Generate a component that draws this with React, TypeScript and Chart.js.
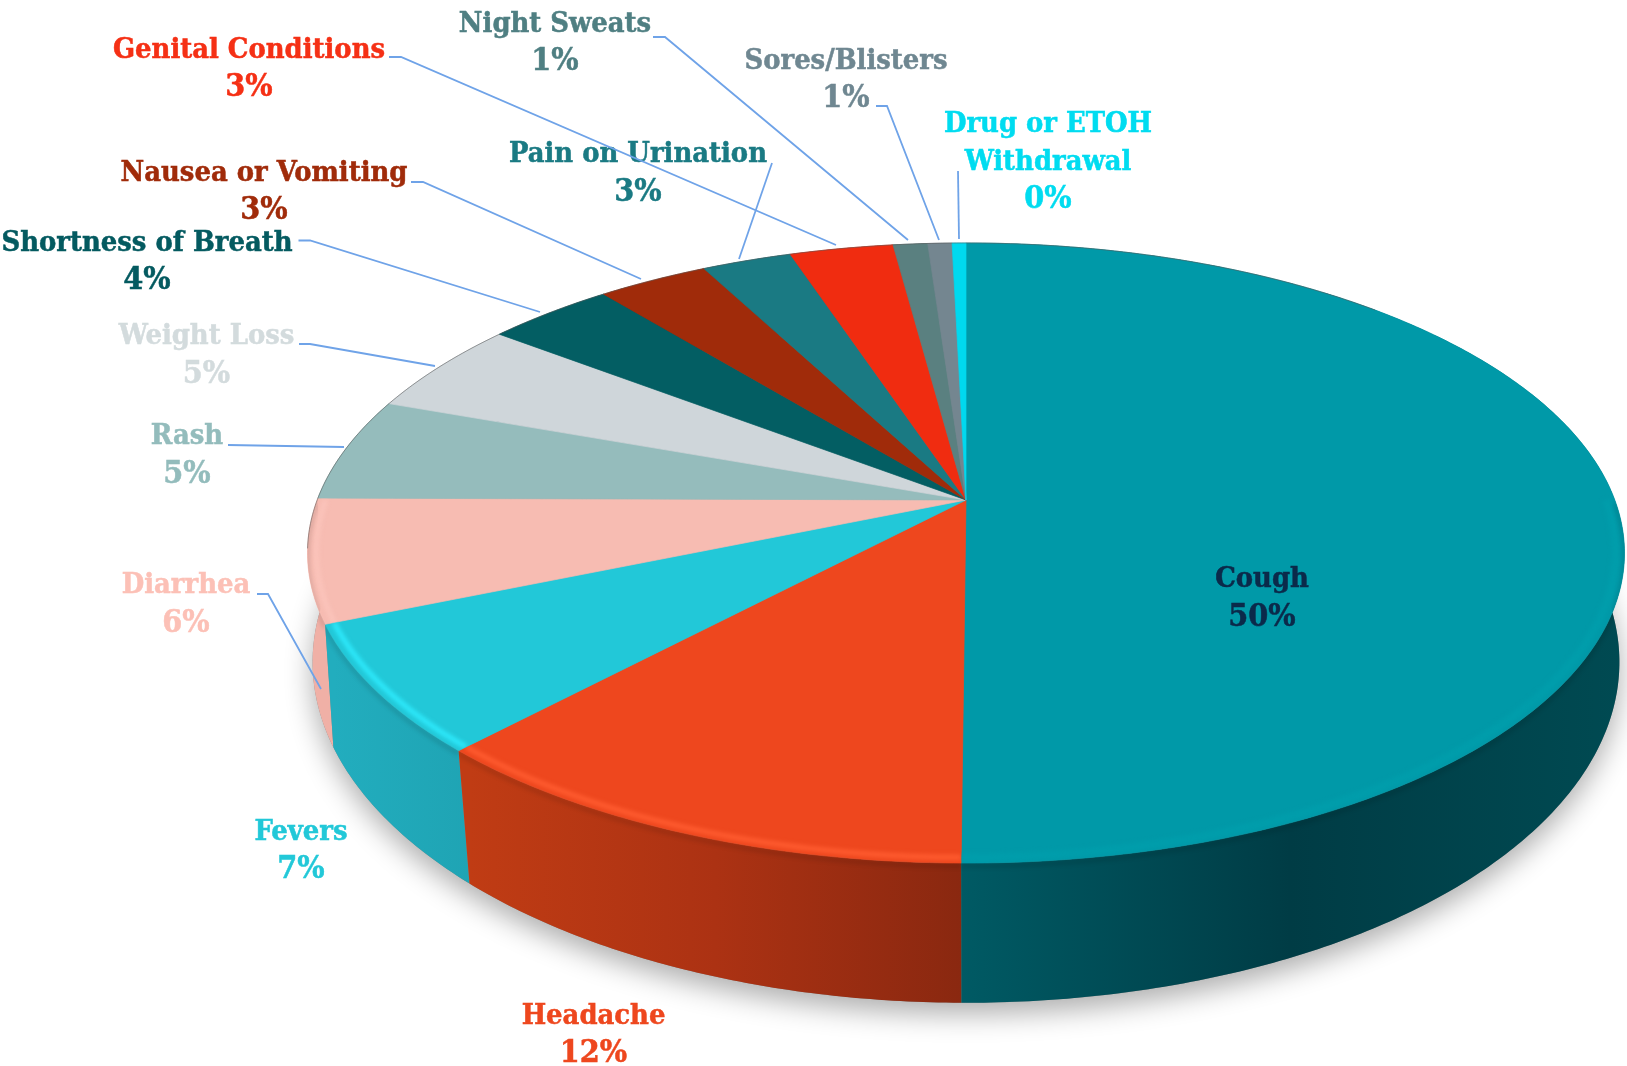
import React, { useEffect, useRef } from "react";
import { Chart, registerables } from "chart.js";

Chart.register(...registerables);

const categories = ["Cough", "Headache", "Fevers", "Diarrhea", "Rash", "Weight Loss", "Shortness of Breath", "Nausea or Vomiting", "Pain on Urination", "Genital Conditions", "Night Sweats", "Sores/Blisters", "Drug or ETOH Withdrawal"];
const values = [50.1, 11.9, 6.7, 6.4, 5.4, 4.9, 3.7, 3.2, 2.6, 3.0, 1.0, 0.7, 0.4];
const topColors = ["#0099a8", "#ee471e", "#22c8d8", "#f7bcb2", "#95bcbc", "#cfd6da", "#035e63", "#a02b0a", "#1a7a83", "#f02c10", "#5a8080", "#748690", "#00d9ef"];
const textColors = ["#0b2a4a", "#ee471e", "#22c8d8", "#fcc0b6", "#93bcbc", "#d3dbdd", "#045a60", "#a02b0a", "#1a7a83", "#f53015", "#4f7f82", "#6f8791", "#00dcf0"];
const wallColors = [["#005a64", "#003c45", "#004a52"], ["#c03c14", "#ac3213", "#8a2810"], ["#22adbe", "#1fa4b4"], ["#f0b0a6", "#f0b0a6"], ["#7aa0a0", "#7aa0a0"], ["#aab4b6", "#aab4b6"], ["#034448", "#034448"], ["#7a2007", "#7a2007"], ["#125a60", "#125a60"], ["#b0200c", "#b0200c"], ["#406060", "#406060"], ["#566470", "#566470"], ["#00a0b0", "#00a0b0"]];
const rimColors = ["#009dab", "#ff5c30", "#2eeafc", "#fbc4bb", "#95bcbc", "#cfd6da", "#035e63", "#a02b0a", "#1a7a83", "#f02c10", "#5a8080", "#748690", "#00d9ef"];

// lines: centre x, y centres of each text line; leader: polyline from label to pie
const labelLayout = [
  { lines: ["Cough"], cx: 1262, ys: [577, 615] },
  { lines: ["Headache"], cx: 593.5, ys: [1014, 1051] },
  { lines: ["Fevers"], cx: 301, ys: [830, 867.5] },
  { lines: ["Diarrhea"], cx: 186, ys: [583, 621.5], leader: [[257, 594], [268, 594], [321, 689]] },
  { lines: ["Rash"], cx: 187, ys: [434, 472], leader: [[228, 445], [344, 447]] },
  { lines: ["Weight Loss"], cx: 206.5, ys: [334, 372.5], leader: [[299, 344], [310, 344], [435, 366]] },
  { lines: ["Shortness of Breath"], cx: 147, ys: [241, 278], leader: [[298.5, 240.5], [310, 240.5], [540, 312]] },
  { lines: ["Nausea or Vomiting"], cx: 264, ys: [171, 208.5], leader: [[411, 182], [423, 182], [641, 279]] },
  { lines: ["Pain on Urination"], cx: 638, ys: [152.5, 190], leader: [[772, 163], [739, 259]] },
  { lines: ["Genital Conditions"], cx: 249, ys: [48, 85], leader: [[389, 57], [401, 57], [836, 245]] },
  { lines: ["Night Sweats"], cx: 555, ys: [22, 59], leader: [[653, 37], [665, 37], [908, 240]] },
  { lines: ["Sores/Blisters"], cx: 846, ys: [59, 96.5], leader: [[876, 106], [887, 106], [939, 240]] },
  { lines: ["Drug or ETOH", "Withdrawal"], cx: 1048, ys: [122, 160, 197], leader: [[958, 171], [959, 239]] },
];

const TOP = { x0: 966, y0: 500, A: 648.8, B: 301, k: 0.171 };
const BOTTOM = { x0: 966, y0: 611, A: 646, B: 333, k: 0.15 };
const FAMILY = '"DejaVu Serif Condensed", "DejaVu Serif", serif';
const NAME_FONT = `bold 28.8px ${FAMILY}`;
const PCT_FONT = `bold 32px ${FAMILY}`;
const LEADER = "#6fa3e8";

type Proj = typeof TOP;
const project = (p: Proj, a: number, r = 1): [number, number] => {
  const X = r * Math.cos(a);
  const Y = r * Math.sin(a);
  const w = 1 / (1 - p.k * Y);
  return [p.x0 + p.A * X * w, p.y0 + p.B * Y * w];
};

const arcPoints = (p: Proj, s: number, e: number, r = 1) => {
  const n = Math.max(2, Math.ceil(Math.abs(e - s) / 0.01));
  const out: [number, number][] = [];
  for (let i = 0; i <= n; i++) out.push(project(p, s + ((e - s) * i) / n, r));
  return out;
};

const pie3d = {
  id: "pie3d",
  beforeDatasetsDraw(chart: any) {
    const ctx: CanvasRenderingContext2D = chart.ctx;
    const arcs = chart.getDatasetMeta(0).data;
    const order = arcs.map((_: any, i: number) => i);

    // Drop shadow under the base
    ctx.save();
    ctx.shadowColor = "rgba(0,0,0,0.32)";
    ctx.shadowBlur = 28;
    ctx.shadowOffsetY = 11;
    ctx.shadowOffsetX = 0;
    ctx.fillStyle = "#888";
    ctx.beginPath();
    arcPoints(BOTTOM, 0, Math.PI * 2).forEach(([x, y], i) => (i ? ctx.lineTo(x, y) : ctx.moveTo(x, y)));
    ctx.closePath();
    ctx.fill();
    ctx.restore();

    const mid = (i: number) => Math.sin((arcs[i].startAngle + arcs[i].endAngle) / 2);
    const wallPath = (i: number) => {
      const { startAngle: s, endAngle: e } = arcs[i];
      const t = arcPoints(TOP, s, e);
      const b = arcPoints(BOTTOM, e, s);
      ctx.beginPath();
      t.concat(b).forEach(([x, y], j) => (j ? ctx.lineTo(x, y) : ctx.moveTo(x, y)));
      ctx.closePath();
    };
    const topPath = (i: number) => {
      const { startAngle: s, endAngle: e } = arcs[i];
      ctx.beginPath();
      ctx.moveTo(TOP.x0, TOP.y0);
      arcPoints(TOP, s, e).forEach(([x, y]) => ctx.lineTo(x, y));
      ctx.closePath();
    };

    // Side walls, back to front
    [...order].sort((a: number, b: number) => mid(a) - mid(b)).forEach((i: number) => {
      const { startAngle: s, endAngle: e } = arcs[i];
      const pts = arcPoints(BOTTOM, Math.max(s, -0.2), Math.max(e, -0.2));
      const xs = pts.map((p) => p[0]);
      const g = ctx.createLinearGradient(Math.min(...xs), 0, Math.max(...xs), 0);
      const stops = wallColors[i];
      stops.forEach((c, j) => g.addColorStop(j / (stops.length - 1), c));
      wallPath(i);
      ctx.fillStyle = g;
      ctx.fill();
    });

    // Top faces
    order.forEach((i: number) => {
      topPath(i);
      ctx.fillStyle = arcs[i].options.backgroundColor;
      ctx.fill();
      ctx.strokeStyle = arcs[i].options.backgroundColor;
      ctx.lineWidth = 0.7;
      ctx.stroke();
    });

    // Bevel highlight along the front rim
    order.forEach((i: number) => {
      const { startAngle: s, endAngle: e } = arcs[i];
      if (e <= 0 || s >= Math.PI) return;
      ctx.save();
      topPath(i);
      ctx.clip();
      ctx.filter = "blur(2px)";
      ctx.strokeStyle = rimColors[i];
      ctx.lineWidth = i === 0 ? 8 : 5;
      ctx.beginPath();
      arcPoints(TOP, Math.max(s, 0), Math.min(Math.max(e, 0), Math.PI), 0.987).forEach(([x, y], j) => (j ? ctx.lineTo(x, y) : ctx.moveTo(x, y)));
      ctx.stroke();
      ctx.restore();
      // dark seam just below the rim
      ctx.save();
      wallPath(i);
      ctx.clip();
      ctx.filter = "blur(2px)";
      ctx.strokeStyle = "rgba(0,0,0,0.12)";
      ctx.lineWidth = 4;
      ctx.beginPath();
      arcPoints(TOP, Math.max(s, 0), Math.min(Math.max(e, 0), Math.PI), 1).forEach(([x, y], j) => (j ? ctx.lineTo(x, y + 3) : ctx.moveTo(x, y + 3)));
      ctx.stroke();
      ctx.restore();
    });

    // Thin grey back and left outline
    ctx.save();
    ctx.strokeStyle = "rgba(90,90,90,0.55)";
    ctx.lineWidth = 1;
    ctx.beginPath();
    arcPoints(TOP, Math.PI * 0.95, Math.PI * 1.75).forEach(([x, y], j) => (j ? ctx.lineTo(x, y) : ctx.moveTo(x, y)));
    ctx.stroke();
    ctx.restore();
    return false;
  },
  afterDraw(chart: any) {
    const ctx: CanvasRenderingContext2D = chart.ctx;
    const vals = chart.data.datasets[0].data as number[];
    labelLayout.forEach((l: any, i: number) => {
      if (l.leader) {
        ctx.strokeStyle = LEADER;
        ctx.lineWidth = 1.8;
        ctx.beginPath();
        l.leader.forEach(([x, y]: number[], j: number) => (j ? ctx.lineTo(x, y) : ctx.moveTo(x, y)));
        ctx.stroke();
      }
      ctx.textAlign = "center";
      ctx.textBaseline = "middle";
      ctx.fillStyle = textColors[i];
      ctx.strokeStyle = textColors[i];
      ctx.lineWidth = 0.5;
      l.lines.forEach((t: string, j: number) => {
        ctx.font = NAME_FONT;
        ctx.fillText(t, l.cx, l.ys[j] + 2.5);
        ctx.strokeText(t, l.cx, l.ys[j] + 2.5);
      });
      const pct = `${Math.round(vals[i])}%`;
      ctx.font = PCT_FONT;
      ctx.fillText(pct, l.cx, l.ys[l.lines.length] + 2.5);
      ctx.strokeText(pct, l.cx, l.ys[l.lines.length] + 2.5);
    });
  },
};

export default function App() {
  const ref = useRef<HTMLCanvasElement>(null);
  useEffect(() => {
    const chart = new Chart(ref.current!, {
      type: "pie",
      data: { labels: categories, datasets: [{ data: values, backgroundColor: topColors, borderWidth: 0 }] },
      options: {
        responsive: false,
        animation: false,
        plugins: { legend: { display: false }, tooltip: { enabled: false } },
      },
      plugins: [pie3d],
    } as any);
    return () => chart.destroy();
  }, []);
  return (
    <>
      <style>{`html,body{margin:0;background:#fff}`}</style>
      <canvas ref={ref} width={1627} height={1066} style={{ display: "block" }} />
    </>
  );
}
